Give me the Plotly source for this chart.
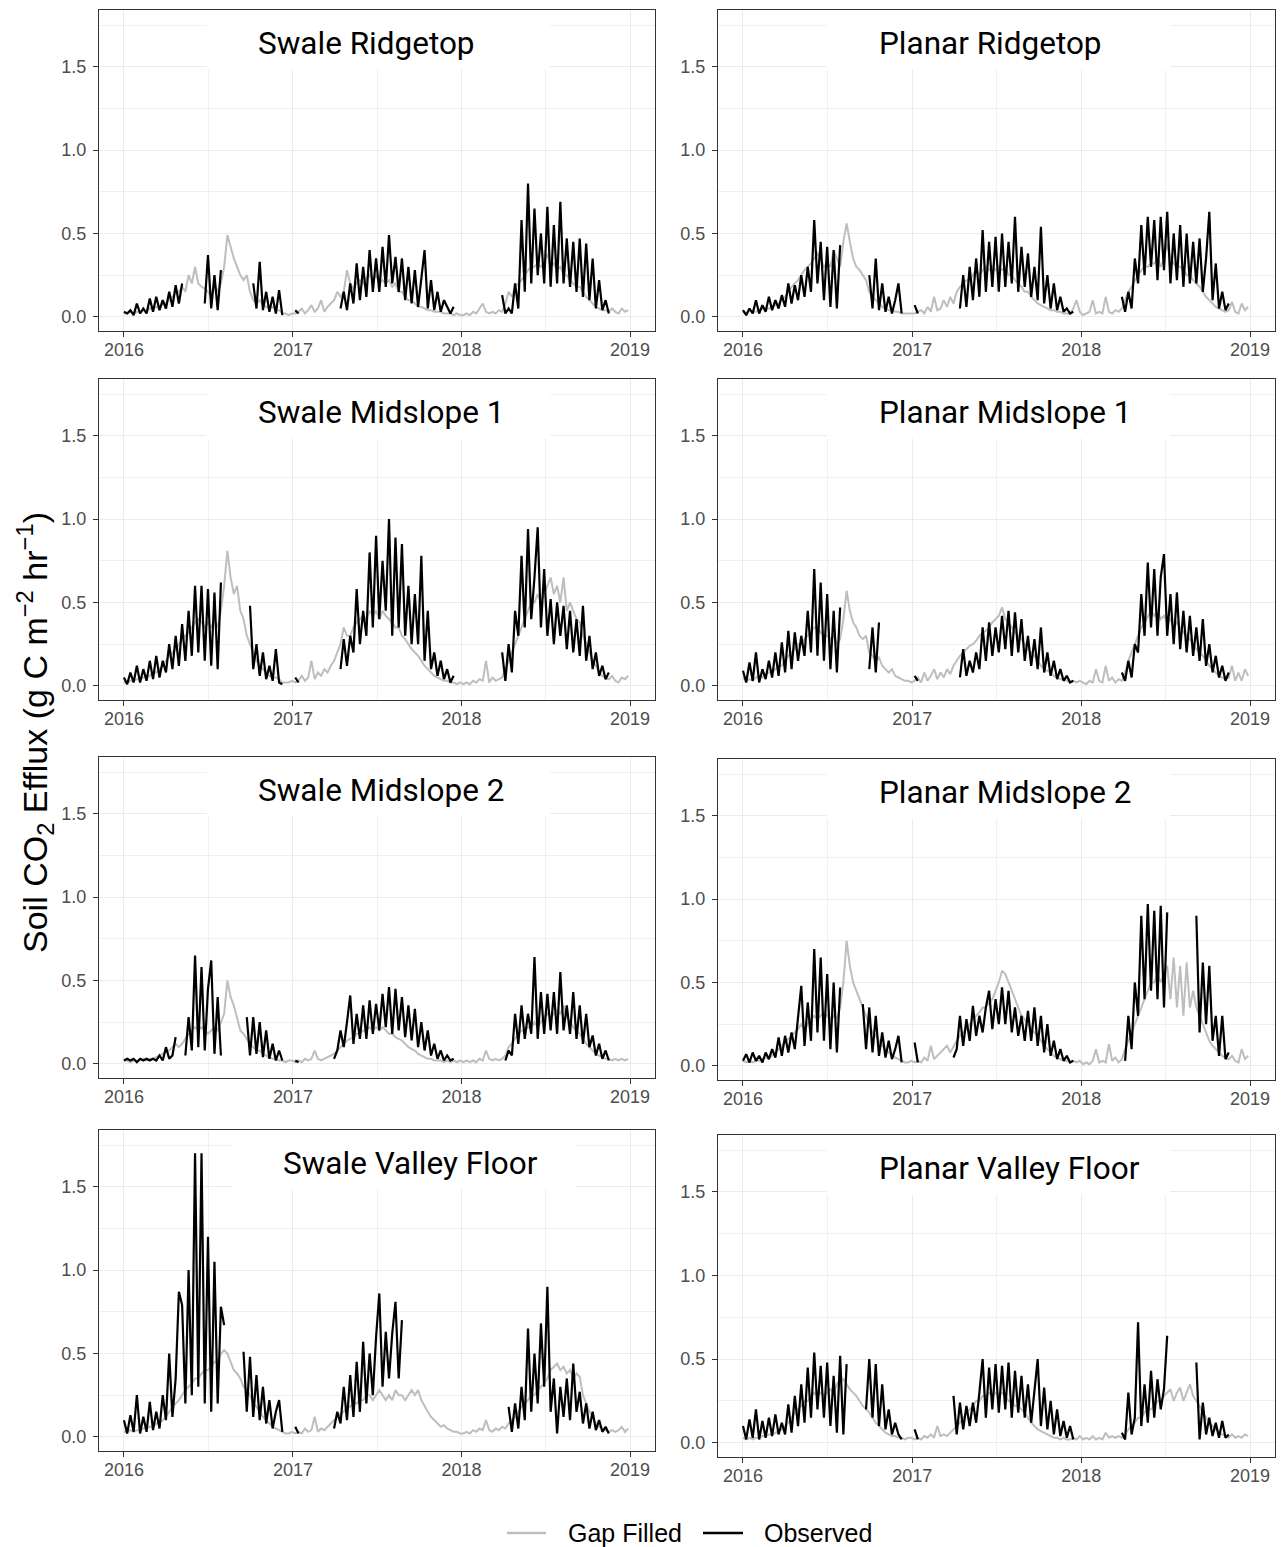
import plotly.graph_objects as go
import pandas as pd

_ = None

# ---------------- weekly sampling dates (2016-01-01 ... 2018-12-28) ----------------
dates = pd.date_range("2016-01-01", periods=157, freq="7D")

panel_titles = ["Swale Ridgetop", "Planar Ridgetop", "Swale Midslope 1", "Planar Midslope 1",
                "Swale Midslope 2", "Planar Midslope 2", "Swale Valley Floor", "Planar Valley Floor"]
year_ticks = ["2016-01-01", "2017-01-01", "2018-01-01", "2019-01-01"]
year_labels = ["2016", "2017", "2018", "2019"]
y_ticks = [0.0, 0.5, 1.0, 1.5]
y_labels = ["0.0", "0.5", "1.0", "1.5"]
legend_labels = ["Gap Filled", "Observed"]

# ---------------- Swale Ridgetop ----------------
sr_gap = [0.02,0.02,0.03,0.02,0.03, 0.03,0.04,0.03,0.05, 0.05,0.06,0.05,0.08, 0.08,0.10,0.12,0.14,0.15, 0.18,0.15,0.25,0.20,0.30, 0.20,0.18,0.17,0.15, 0.12,0.20,0.15,0.20, 0.30,0.49,0.42,0.35,0.30,0.25,0.22,0.25, 0.15,0.10,0.08,0.10,0.07, 0.06,0.05,0.06,0.04, 0.04,0.02,0.02,0.01,0.02,
          0.02,0.03,0.05,0.02, 0.04,0.07,0.03,0.05, 0.10,0.03,0.06,0.08,0.10, 0.15,0.12,0.15,0.28, 0.20,0.17,0.20,0.22,0.20, 0.23,0.25,0.22,0.25, 0.20,0.22,0.20,0.22, 0.18,0.20,0.15,0.15,0.12, 0.10,0.10,0.08,0.06, 0.06,0.05,0.04,0.04, 0.03,0.03,0.03,0.02,0.02, 0.02,0.01,0.02,0.01,
          0.01,0.02,0.01,0.03, 0.02,0.05,0.08,0.03, 0.02,0.03,0.02,0.04,0.03, 0.08,0.15,0.12,0.18, 0.20,0.22,0.25,0.28,0.30, 0.30,0.32,0.30,0.32, 0.38,0.30,0.32,0.28, 0.30,0.25,0.25,0.22,0.20, 0.18,0.18,0.15,0.12, 0.10,0.08,0.06,0.05, 0.04,0.04,0.03,0.05,0.03, 0.02,0.05,0.03,0.04]
sr_obs = [0.03,0.02,0.04,0.01,0.08, 0.02,0.05,0.02,0.11, 0.03,0.12,0.04,0.10, 0.05,0.15,0.06,0.19,0.08, 0.20,_,_,_,_, _,_,0.08,0.37, 0.05,0.25,0.04,0.28, _,_,_,_,_,_,_,_, _,0.20,0.05,0.33,0.04, 0.15,0.03,0.12,0.02, 0.16,0.01,_,_,_,
          0.04,0.02,_,_, _,_,_,_, _,_,_,_,_, _,0.05,0.15,0.04, 0.20,0.08,0.32,0.10,0.30, 0.12,0.40,0.15,0.35, 0.15,0.42,0.18,0.49, 0.20,0.36,0.15,0.35,0.10, 0.30,0.08,0.28,0.06, 0.25,0.40,0.05,0.22, 0.04,0.15,0.03,0.10,0.06, 0.02,0.06,_,_,
          _,_,_,_, _,_,_,_, _,_,_,_,0.13, 0.02,0.05,0.02,0.20, 0.05,0.58,0.15,0.80,0.20, 0.65,0.25,0.50,0.20, 0.66,0.18,0.55,0.20, 0.69,0.20,0.47,0.18,0.45, 0.15,0.47,0.12,0.44, 0.10,0.35,0.05,0.22, 0.04,0.10,0.02,_,_, _,_,_,_]

# ---------------- Planar Ridgetop ----------------
pr_gap = [0.03,0.02,0.04,0.03,0.03, 0.04,0.05,0.04,0.05, 0.06,0.07,0.08,0.10, 0.12,0.15,0.18,0.20,0.22, 0.25,0.28,0.30,0.32,0.35, 0.38,0.35,0.30,0.32, 0.30,0.40,0.35,0.30, 0.45,0.56,0.45,0.35,0.30,0.28,0.25,0.22, 0.15,0.12,0.10,0.08,0.06, 0.05,0.04,0.04,0.03, 0.03,0.02,0.02,0.02,0.02,
          0.02,0.03,0.04,0.02, 0.06,0.03,0.12,0.04, 0.05,0.10,0.06,0.12,0.08, 0.15,0.18,0.20,0.22, 0.22,0.25,0.28,0.25,0.28, 0.30,0.28,0.30,0.28, 0.30,0.28,0.30,0.25, 0.25,0.22,0.20,0.18,0.15, 0.15,0.12,0.10,0.08, 0.07,0.06,0.05,0.04, 0.04,0.03,0.03,0.02,0.02, 0.02,0.05,0.10,0.03,
          0.01,0.02,0.03,0.10, 0.02,0.03,0.02,0.12, 0.03,0.02,0.04,0.03,0.05, 0.10,0.15,0.18,0.22, 0.25,0.28,0.30,0.30,0.32, 0.32,0.35,0.30,0.35, 0.44,0.35,0.32,0.30, 0.30,0.28,0.25,0.25,0.22, 0.20,0.18,0.15,0.12, 0.10,0.08,0.06,0.05, 0.04,0.03,0.04,0.09,0.03, 0.02,0.08,0.04,0.06]
pr_obs = [0.04,0.01,0.05,0.02,0.10, 0.02,0.07,0.03,0.12, 0.04,0.10,0.05,0.13, 0.06,0.20,0.08,0.19,0.10, 0.25,0.12,0.30,0.15,0.58, 0.20,0.45,0.10,0.42, 0.06,0.40,0.05,0.43, _,_,_,_,_,_,_,_, 0.25,0.05,0.35,0.04,0.20, 0.03,0.12,0.02,0.10, 0.20,0.02,_,_,_,
          0.07,0.02,_,_, _,_,_,_, _,_,_,_,_, _,0.05,0.25,0.06, 0.30,0.10,0.35,0.12,0.52, 0.15,0.45,0.18,0.48, 0.15,0.50,0.18,0.45, 0.20,0.60,0.15,0.42,0.18, 0.38,0.12,0.30,0.10, 0.54,0.08,0.25,0.05, 0.20,0.04,0.12,0.03,0.05, 0.02,0.03,_,_,
          _,_,_,_, _,_,_,_, _,_,_,_,0.12, 0.03,0.15,0.05,0.35, 0.20,0.55,0.25,0.60,0.30, 0.58,0.22,0.60,0.28, 0.63,0.20,0.50,0.22, 0.55,0.18,0.50,0.20,0.45, 0.20,0.47,0.15,0.35, 0.63,0.10,0.32,0.05, 0.15,0.04,0.08,_,_, _,_,_,_]

# ---------------- Swale Midslope 1 ----------------
sm1_gap = [0.02,0.02,0.03,0.03,0.04, 0.04,0.05,0.05,0.06, 0.08,0.08,0.10,0.12, 0.15,0.18,0.20,0.22,0.25, 0.28,0.30,0.32,0.35,0.38, 0.40,0.38,0.35,0.38, 0.35,0.40,0.35,0.45, 0.60,0.81,0.65,0.55,0.60,0.45,0.40,0.30, 0.25,0.20,0.15,0.12,0.10, 0.08,0.06,0.05,0.05, 0.04,0.02,0.02,0.02,0.03,
           0.02,0.03,0.06,0.03, 0.05,0.15,0.04,0.08, 0.06,0.10,0.08,0.12,0.15, 0.20,0.25,0.35,0.30, 0.30,0.35,0.38,0.40,0.42, 0.40,0.45,0.42,0.45, 0.40,0.45,0.42,0.40, 0.38,0.35,0.35,0.30,0.28, 0.25,0.22,0.20,0.18, 0.15,0.12,0.10,0.08, 0.06,0.05,0.04,0.03,0.03, 0.02,0.02,0.01,0.02,
           0.01,0.02,0.01,0.03, 0.02,0.04,0.03,0.15, 0.02,0.05,0.03,0.04,0.05, 0.10,0.15,0.20,0.25, 0.30,0.35,0.40,0.45,0.50, 0.50,0.55,0.50,0.55, 0.60,0.65,0.55,0.60, 0.50,0.65,0.45,0.50,0.45, 0.40,0.38,0.30,0.25, 0.20,0.15,0.12,0.08, 0.06,0.05,0.04,0.06,0.03, 0.02,0.05,0.04,0.06]
sm1_obs = [0.05,0.01,0.08,0.02,0.12, 0.02,0.10,0.03,0.15, 0.04,0.18,0.05,0.15, 0.08,0.25,0.10,0.30,0.12, 0.37,0.15,0.45,0.18,0.60, 0.20,0.60,0.15,0.58, 0.12,0.56,0.10,0.62, _,_,_,_,_,_,_,_, 0.48,0.10,0.25,0.06,0.20, 0.04,0.12,0.03,0.22, 0.02,0.01,_,_,_,
           0.05,0.02,_,_, _,_,_,_, _,_,_,_,_, _,0.10,0.28,0.12, 0.30,0.20,0.58,0.25,0.45, 0.30,0.80,0.35,0.90, 0.40,0.75,0.45,1.00, 0.30,0.89,0.35,0.85,0.30, 0.60,0.25,0.55,0.25, 0.78,0.15,0.45,0.10, 0.20,0.06,0.15,0.04,0.10, 0.02,0.06,_,_,
           _,_,_,_, _,_,_,_, _,_,_,_,0.20, 0.03,0.25,0.08,0.45, 0.30,0.78,0.35,0.94,0.40, 0.65,0.95,0.35,0.70, 0.30,0.52,0.25,0.50, 0.30,0.48,0.22,0.45,0.20, 0.40,0.18,0.48,0.15, 0.30,0.10,0.20,0.06, 0.12,0.04,0.08,_,_, _,_,_,_]

# ---------------- Planar Midslope 1 ----------------
pm1_gap = [0.05,0.03,0.04,0.03,0.05, 0.06,0.05,0.07,0.08, 0.08,0.10,0.12,0.12, 0.15,0.18,0.20,0.22,0.25, 0.25,0.28,0.30,0.32,0.35, 0.35,0.32,0.30,0.30, 0.28,0.30,0.25,0.28, 0.40,0.57,0.45,0.38,0.35,0.30,0.28,0.30, 0.20,0.18,0.15,0.17,0.12, 0.10,0.08,0.10,0.06, 0.05,0.04,0.03,0.03,0.02,
           0.03,0.05,0.02,0.08, 0.03,0.06,0.10,0.04, 0.08,0.05,0.10,0.07,0.12, 0.15,0.18,0.20,0.22, 0.24,0.25,0.27,0.30,0.32, 0.33,0.35,0.38,0.40, 0.42,0.47,0.40,0.38, 0.35,0.32,0.30,0.28,0.25, 0.22,0.20,0.18,0.15, 0.12,0.10,0.09,0.08, 0.06,0.05,0.04,0.04,0.03, 0.02,0.03,0.02,0.03,
           0.02,0.01,0.03,0.02, 0.10,0.03,0.02,0.12, 0.03,0.05,0.02,0.04,0.03, 0.08,0.15,0.20,0.25, 0.30,0.35,0.38,0.42,0.45, 0.42,0.45,0.40,0.42, 0.38,0.40,0.35,0.38, 0.35,0.32,0.30,0.28,0.25, 0.22,0.20,0.18,0.15, 0.12,0.10,0.08,0.06, 0.05,0.04,0.05,0.12,0.03, 0.08,0.03,0.10,0.06]
pm1_obs = [0.09,0.02,0.14,0.03,0.20, 0.02,0.10,0.04,0.15, 0.05,0.20,0.06,0.26, 0.08,0.33,0.10,0.32,0.15, 0.30,0.18,0.45,0.20,0.70, 0.18,0.62,0.15,0.55, 0.10,0.45,0.08,0.47, _,_,_,_,_,_,_,_, 0.10,0.35,0.08,0.38,_, _,_,_,_, _,_,_,_,_,
           0.06,0.03,_,_, _,_,_,_, _,_,_,_,_, _,0.05,0.22,0.06, 0.15,0.08,0.20,0.10,0.35, 0.15,0.38,0.18,0.35, 0.20,0.42,0.22,0.45, 0.18,0.44,0.20,0.40,0.15, 0.30,0.12,0.28,0.10, 0.35,0.08,0.20,0.06, 0.15,0.04,0.10,0.03,0.06, 0.02,0.03,_,_,
           _,_,_,_, _,_,_,_, _,_,_,_,0.08, 0.03,0.15,0.05,0.25, 0.20,0.55,0.30,0.74,0.35, 0.70,0.30,0.65,0.79, 0.30,0.55,0.25,0.56, 0.22,0.45,0.20,0.42,0.18, 0.35,0.15,0.40,0.12, 0.25,0.08,0.18,0.05, 0.12,0.03,0.08,_,_, _,_,_,_]

# ---------------- Swale Midslope 2 ----------------
sm2_gap = [0.02,0.02,0.01,0.02,0.02, 0.02,0.03,0.02,0.03, 0.03,0.04,0.05,0.06, 0.07,0.08,0.10,0.12,0.10, 0.12,0.15,0.18,0.20,0.22, 0.20,0.22,0.20,0.18, 0.20,0.22,0.20,0.25, 0.30,0.50,0.40,0.35,0.28,0.20,0.18,0.15, 0.12,0.10,0.08,0.08,0.06, 0.05,0.04,0.03,0.03, 0.02,0.02,0.01,0.02,0.02,
           0.01,0.02,0.01,0.03, 0.02,0.03,0.08,0.03, 0.02,0.03,0.04,0.05,0.06, 0.08,0.10,0.12,0.14, 0.15,0.16,0.18,0.18,0.20, 0.20,0.22,0.20,0.22, 0.20,0.22,0.20,0.18, 0.18,0.16,0.15,0.14,0.12, 0.10,0.09,0.08,0.06, 0.05,0.04,0.03,0.03, 0.02,0.02,0.02,0.01,0.02, 0.01,0.02,0.01,0.02,
           0.01,0.02,0.01,0.02, 0.01,0.03,0.02,0.08, 0.03,0.02,0.03,0.02,0.03, 0.05,0.10,0.12,0.15, 0.18,0.20,0.20,0.22,0.22, 0.25,0.22,0.25,0.28, 0.30,0.28,0.30,0.32, 0.30,0.35,0.28,0.25,0.22, 0.20,0.18,0.15,0.12, 0.10,0.08,0.06,0.05, 0.04,0.03,0.03,0.02,0.03, 0.02,0.03,0.02,0.03]
sm2_obs = [0.02,0.03,0.02,0.03,0.01, 0.03,0.02,0.03,0.02, 0.03,0.02,0.05,0.02, 0.10,0.03,0.05,0.16,_, _,0.05,0.28,0.08,0.65, 0.10,0.58,0.08,0.45, 0.62,0.06,0.40,0.05, _,_,_,_,_,_,_,0.28, 0.05,0.28,0.06,0.25,0.04, 0.20,0.03,0.12,0.02, 0.08,0.02,_,_,_,
           0.02,0.01,_,_, _,_,_,_, _,_,_,_,0.03, 0.08,0.20,0.10,0.25, 0.41,0.12,0.30,0.15,0.35, 0.15,0.38,0.18,0.36, 0.20,0.42,0.22,0.46, 0.18,0.45,0.20,0.40,0.16, 0.35,0.14,0.33,0.10, 0.25,0.08,0.20,0.05, 0.12,0.03,0.08,0.02,0.05, 0.02,0.03,_,_,
           _,_,_,_, _,_,_,_, _,_,_,_,_, 0.02,0.08,0.05,0.30, 0.12,0.35,0.15,0.30,0.18, 0.64,0.15,0.43,0.18, 0.42,0.20,0.43,0.18, 0.55,0.20,0.35,0.18,0.43, 0.15,0.35,0.12,0.30, 0.10,0.17,0.05,0.12, 0.03,0.08,0.02,_,_, _,_,_,_]

# ---------------- Planar Midslope 2 ----------------
pm2_gap = [0.03,0.02,0.03,0.02,0.03, 0.03,0.04,0.05,0.05, 0.06,0.08,0.10,0.12, 0.14,0.16,0.18,0.20,0.22, 0.25,0.22,0.25,0.28,0.30, 0.28,0.30,0.32,0.30, 0.28,0.30,0.28,0.35, 0.50,0.75,0.60,0.50,0.45,0.40,0.35,0.30, 0.25,0.20,0.18,0.15,0.12, 0.10,0.08,0.06,0.05, 0.04,0.03,0.02,0.02,0.03,
           0.02,0.03,0.02,0.05, 0.03,0.12,0.04,0.06, 0.08,0.10,0.12,0.08,0.12, 0.15,0.18,0.20,0.22, 0.25,0.28,0.30,0.32,0.35, 0.35,0.38,0.40,0.45, 0.50,0.57,0.55,0.50, 0.45,0.40,0.35,0.30,0.28, 0.25,0.22,0.20,0.18, 0.15,0.12,0.10,0.08, 0.06,0.05,0.04,0.03,0.03, 0.02,0.03,0.02,0.03,
           0.01,0.02,0.01,0.03, 0.10,0.02,0.03,0.02, 0.13,0.03,0.05,0.02,0.04, 0.10,0.15,0.20,0.25, 0.30,0.35,0.40,0.45,0.50, 0.50,0.55,0.50,0.55, 0.60,0.40,0.65,0.35, 0.60,0.30,0.62,0.35,0.45, 0.35,0.30,0.25,0.20, 0.15,0.12,0.10,0.08, 0.06,0.05,0.04,0.06,0.03, 0.02,0.10,0.04,0.06]
pm2_obs = [0.03,0.07,0.02,0.08,0.03, 0.06,0.02,0.08,0.04, 0.10,0.05,0.17,0.06, 0.18,0.08,0.20,0.10,0.30, 0.48,0.12,0.38,0.15,0.70, 0.20,0.65,0.15,0.55, 0.10,0.50,0.08,0.47, _,_,_,_,_,_,0.37,0.10, 0.35,0.08,0.30,0.06,0.20, 0.05,0.15,0.04,0.10, 0.18,0.02,_,_,_,
           0.14,0.02,_,_, _,_,_,_, _,_,_,_,0.05, 0.10,0.30,0.12,0.28, 0.15,0.36,0.18,0.30,0.20, 0.35,0.45,0.22,0.40, 0.25,0.47,0.25,0.45, 0.20,0.35,0.18,0.30,0.15, 0.33,0.15,0.35,0.12, 0.30,0.08,0.25,0.06, 0.15,0.04,0.10,0.03,0.06, 0.02,0.03,_,_,
           _,_,_,_, _,_,_,_, _,_,_,_,_, 0.03,0.30,0.10,0.50, 0.30,0.90,0.40,0.97,0.45, 0.93,0.40,0.96,0.35, 0.92,_,_,_, _,_,_,_,_, 0.90,0.20,0.62,0.25, 0.60,0.15,0.30,0.06, 0.30,0.04,0.08,_,_, _,_,_,_]

# ---------------- Swale Valley Floor ----------------
svf_gap = [0.03,0.03,0.04,0.03,0.04, 0.04,0.05,0.05,0.06, 0.06,0.08,0.08,0.10, 0.12,0.15,0.18,0.20,0.22, 0.25,0.28,0.30,0.32,0.35, 0.35,0.38,0.40,0.40, 0.42,0.45,0.45,0.50, 0.52,0.50,0.45,0.40,0.38,0.35,0.30,0.28, 0.25,0.20,0.18,0.15,0.12, 0.10,0.08,0.06,0.05, 0.04,0.03,0.02,0.02,0.03,
           0.02,0.03,0.02,0.05, 0.03,0.04,0.12,0.03, 0.05,0.04,0.06,0.08,0.10, 0.12,0.14,0.15,0.18, 0.18,0.20,0.20,0.22,0.22, 0.25,0.25,0.22,0.25, 0.28,0.25,0.22,0.25, 0.22,0.28,0.25,0.25,0.22, 0.25,0.28,0.25,0.28, 0.22,0.18,0.15,0.12, 0.10,0.08,0.06,0.07,0.05, 0.04,0.03,0.03,0.02,
           0.02,0.03,0.02,0.04, 0.03,0.05,0.04,0.10, 0.04,0.03,0.05,0.04,0.06, 0.05,0.08,0.10,0.12, 0.15,0.18,0.20,0.22,0.25, 0.25,0.28,0.30,0.32, 0.35,0.40,0.42,0.44, 0.40,0.42,0.38,0.40,0.35, 0.38,0.36,0.25,0.20, 0.15,0.12,0.08,0.06, 0.05,0.04,0.03,0.04,0.03, 0.04,0.06,0.03,0.05]
svf_obs = [0.10,0.02,0.13,0.03,0.25, 0.02,0.12,0.03,0.21, 0.04,0.15,0.05,0.25, 0.10,0.50,0.12,0.35,0.87, 0.79,0.20,1.00,0.25,1.70, 0.30,1.70,0.20,1.20, 0.15,1.05,0.20,0.78, 0.67,_,_,_,_,_,0.51,0.15, 0.48,0.12,0.37,0.10,0.30, 0.08,0.22,0.05,0.15, 0.22,0.03,_,_,_,
           0.06,0.02,_,_, _,_,_,_, _,_,_,_,0.05, 0.15,0.08,0.30,0.10, 0.37,0.12,0.45,0.15,0.57, 0.20,0.50,0.25,0.60, 0.86,0.30,0.63,0.35, 0.62,0.81,0.35,0.70,_, _,_,_,_, _,_,_,_, _,_,_,_,_, _,_,_,_,
           _,_,_,_, _,_,_,_, _,_,_,_,_, _,0.18,0.03,0.20, 0.05,0.30,0.10,0.65,0.15, 0.50,0.20,0.68,0.30, 0.90,0.15,0.35,0.02, 0.30,0.12,0.35,0.10,0.44, 0.15,0.27,0.08,0.20, 0.05,0.15,0.04,0.10, 0.03,0.06,0.02,_,_, _,_,_,_]

# ---------------- Planar Valley Floor ----------------
pvf_gap = [0.03,0.02,0.03,0.02,0.03, 0.03,0.04,0.04,0.05, 0.05,0.06,0.07,0.08, 0.10,0.12,0.15,0.18,0.20, 0.22,0.25,0.25,0.28,0.30, 0.28,0.30,0.28,0.30, 0.32,0.30,0.35,0.38, 0.38,0.35,0.32,0.30,0.28,0.25,0.22,0.20, 0.18,0.15,0.12,0.10,0.08, 0.06,0.05,0.04,0.04, 0.03,0.03,0.02,0.03,0.03,
           0.02,0.03,0.02,0.04, 0.03,0.05,0.03,0.10, 0.04,0.05,0.04,0.06,0.08, 0.10,0.12,0.15,0.18, 0.20,0.22,0.25,0.25,0.28, 0.28,0.30,0.28,0.30, 0.28,0.30,0.28,0.25, 0.25,0.22,0.22,0.20,0.18, 0.15,0.12,0.10,0.08, 0.07,0.06,0.05,0.04, 0.03,0.03,0.02,0.03,0.02, 0.02,0.03,0.02,0.04,
           0.02,0.03,0.02,0.04, 0.02,0.03,0.02,0.06, 0.03,0.04,0.03,0.04,0.03, 0.05,0.08,0.10,0.12, 0.15,0.15,0.18,0.20,0.20, 0.22,0.25,0.25,0.28, 0.30,0.32,0.25,0.30, 0.33,0.25,0.30,0.35,0.28, 0.25,0.22,0.18,0.15, 0.12,0.10,0.08,0.06, 0.05,0.04,0.03,0.05,0.03, 0.04,0.03,0.05,0.04]
pvf_obs = [0.10,0.02,0.14,0.03,0.20, 0.02,0.13,0.03,0.15, 0.04,0.17,0.05,0.12, 0.05,0.23,0.06,0.28,0.10, 0.35,0.12,0.45,0.15,0.54, 0.20,0.46,0.15,0.48, 0.10,0.40,0.06,0.52, 0.05,0.47,_,_,_,_,_,0.20, 0.50,0.15,0.47,0.10,0.35, 0.08,0.20,0.05,0.12, 0.05,0.02,_,_,_,
           0.08,0.02,_,_, _,_,_,_, _,_,_,_,0.28, 0.05,0.24,0.08,0.22, 0.10,0.24,0.12,0.30,0.50, 0.15,0.45,0.20,0.47, 0.18,0.46,0.20,0.48, 0.15,0.43,0.18,0.40,0.15, 0.35,0.12,0.30,0.50, 0.10,0.33,0.08,0.25, 0.05,0.20,0.04,0.13,0.03, 0.10,0.02,_,_,
           _,_,_,_, _,_,_,_, _,_,_,_,0.06, 0.02,0.30,0.05,0.15, 0.72,0.10,0.35,0.12,0.43, 0.15,0.38,0.20,0.32, 0.64,_,_,_, _,_,_,_,_, 0.48,0.02,0.24,0.05, 0.15,0.04,0.12,0.03, 0.13,0.03,0.05,_,_, _,_,_,_]

gap_series = [sr_gap, pr_gap, sm1_gap, pm1_gap, sm2_gap, pm2_gap, svf_gap, pvf_gap]
obs_series = [sr_obs, pr_obs, sm1_obs, pm1_obs, sm2_obs, pm2_obs, svf_obs, pvf_obs]
for s in gap_series + obs_series:
    assert len(s) == len(dates), len(s)

# ---------------- layout geometry (pixels) ----------------
W, H = 1282, 1547
panel_px = [(99, 655, 10, 331), (718, 1275, 10, 331),
            (99, 655, 379, 700), (718, 1275, 379, 700),
            (99, 655, 757, 1078), (718, 1275, 759, 1080),
            (99, 655, 1130, 1451), (718, 1275, 1135, 1457)]
title_x = ["2016-10-14", "2016-10-16", "2016-10-14", "2016-10-16",
           "2016-10-14", "2016-10-16", "2016-12-06", "2016-10-16"]
box_x = [("2016-06-28", "2018-07-12"), ("2016-06-30", "2018-07-12"),
         ("2016-06-28", "2018-07-12"), ("2016-06-30", "2018-07-12"),
         ("2016-06-28", "2018-07-12"), ("2016-06-30", "2018-07-12"),
         ("2016-08-22", "2018-09-06"), ("2016-06-30", "2018-07-12")]

GRAY = "#BEBEBE"
BLACK = "#000000"
TICK_FONT = dict(family="Liberation Sans, Arial, sans-serif", size=18, color="#4D4D4D")

fig = go.Figure()
layout = dict(width=W, height=H, margin=dict(l=0, r=0, t=0, b=0),
              paper_bgcolor="white", plot_bgcolor="white", showlegend=False)
shapes, annotations = [], []

for i in range(8):
    n = i + 1
    xa = "x" if n == 1 else f"x{n}"
    ya = "y" if n == 1 else f"y{n}"
    x0, x1, t, b = panel_px[i]
    fig.add_trace(go.Scatter(x=dates, y=gap_series[i], mode="lines",
                             line=dict(color=GRAY, width=2.0), xaxis=xa, yaxis=ya,
                             name=legend_labels[0], connectgaps=False))
    fig.add_trace(go.Scatter(x=dates, y=obs_series[i], mode="lines",
                             line=dict(color=BLACK, width=2.2), xaxis=xa, yaxis=ya,
                             name=legend_labels[1], connectgaps=False))
    layout[f"xaxis{n}" if n > 1 else "xaxis"] = dict(
        domain=[x0 / W, x1 / W], anchor=ya, type="date",
        range=["2015-11-08", "2019-02-24"],
        tickmode="array", tickvals=year_ticks, ticktext=year_labels,
        ticks="outside", ticklen=5, tickwidth=1, tickcolor="#333333",
        tickfont=TICK_FONT, ticklabelstandoff=-3,
        showline=True, mirror=True, linecolor="#333333", linewidth=1,
        showgrid=True, gridcolor="#EBEBEB", gridwidth=1.1, zeroline=False,
        minor=dict(tickmode="array", tickvals=["2016-07-02", "2017-07-02", "2018-07-02"],
                   showgrid=True, gridcolor="#F0F0F0", gridwidth=0.7, ticks=""),
        fixedrange=True)
    layout[f"yaxis{n}" if n > 1 else "yaxis"] = dict(
        domain=[1 - b / H, 1 - t / H], anchor=xa,
        range=[-0.085, 1.84],
        tickmode="array", tickvals=y_ticks, ticktext=y_labels,
        ticks="outside", ticklen=5, tickwidth=1, tickcolor="#333333",
        tickfont=TICK_FONT, ticklabelstandoff=3,
        showline=True, mirror=True, linecolor="#333333", linewidth=1,
        showgrid=True, gridcolor="#EBEBEB", gridwidth=1.1, zeroline=False,
        minor=dict(tickmode="array", tickvals=[0.25, 0.75, 1.25, 1.75],
                   showgrid=True, gridcolor="#F0F0F0", gridwidth=0.7, ticks=""),
        fixedrange=True)
    # white label box behind the panel title (covers gridlines)
    shapes.append(dict(type="rect", xref=xa, yref=ya, x0=box_x[i][0], x1=box_x[i][1],
                       y0=1.482, y1=1.84, fillcolor="white", line=dict(width=0),
                       layer="between"))
    annotations.append(dict(xref=xa, yref=ya, x=title_x[i], y=1.64, text=panel_titles[i],
                            showarrow=False, xanchor="left", yanchor="middle",
                            font=dict(family="Roboto, sans-serif", size=31.5, color="black")))

# y-axis title
annotations.append(dict(xref="paper", yref="paper", x=35 / W, y=1 - 733 / H,
                        text="Soil CO<sub>2</sub> Efflux (g C m<sup>−2</sup> hr<sup>−1</sup>)",
                        textangle=-90, showarrow=False, xanchor="center", yanchor="middle",
                        font=dict(family="Liberation Sans, Arial, sans-serif", size=34, color="black")))

# manual legend at bottom
leg_y = 1 - 1533 / H
shapes.append(dict(type="line", xref="paper", yref="paper", x0=507 / W, x1=546 / W,
                   y0=leg_y, y1=leg_y, line=dict(color=GRAY, width=2.5)))
shapes.append(dict(type="line", xref="paper", yref="paper", x0=703 / W, x1=743 / W,
                   y0=leg_y, y1=leg_y, line=dict(color=BLACK, width=2.5)))
annotations.append(dict(xref="paper", yref="paper", x=566 / W, y=leg_y, text=legend_labels[0],
                        showarrow=False, xanchor="left", yanchor="middle",
                        font=dict(family="Liberation Sans, Arial, sans-serif", size=25, color="black")))
annotations.append(dict(xref="paper", yref="paper", x=762 / W, y=leg_y, text=legend_labels[1],
                        showarrow=False, xanchor="left", yanchor="middle",
                        font=dict(family="Liberation Sans, Arial, sans-serif", size=25, color="black")))

layout["shapes"] = shapes
layout["annotations"] = annotations
fig.update_layout(**layout)
fig.write_html("out.html")
